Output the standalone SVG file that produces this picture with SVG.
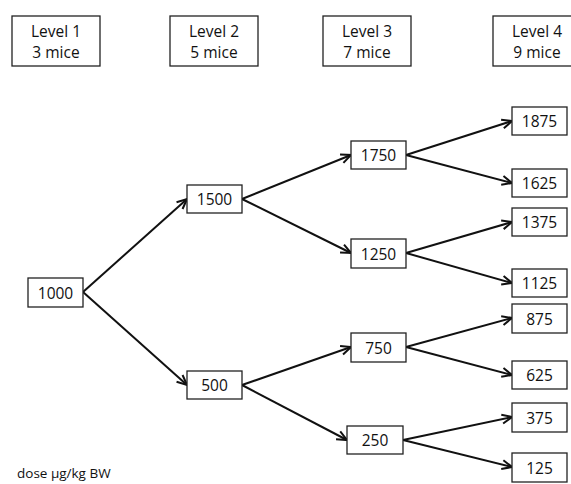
<svg xmlns="http://www.w3.org/2000/svg" width="571" height="484" viewBox="0 0 571 484">
<style>
.box{fill:#fff;stroke:#222;stroke-width:1.3}
.t{font-family:"Open Sans","Noto Sans",sans-serif;font-size:15.5px;fill:#111;text-anchor:middle}
.c{fill:none;stroke:#111;stroke-width:2;marker-end:url(#ah)}
</style>
<defs>
<marker id="ah" viewBox="0 0 12 12" refX="11" refY="6" markerWidth="12" markerHeight="12" markerUnits="userSpaceOnUse" orient="auto">
<path d="M1,1.5 L11,6 L1,10.5" fill="none" stroke="#111" stroke-width="2"/>
</marker>
</defs>
<rect width="571" height="484" fill="#fff"/>
<g id="level1"><rect class="box" x="12" y="16" width="88" height="50"/><text class="t" x="56" y="36.5">Level 1</text><text class="t" x="56" y="57.5">3 mice</text></g>
<g id="level2"><rect class="box" x="170" y="16" width="88" height="50"/><text class="t" x="214" y="36.5">Level 2</text><text class="t" x="214" y="57.5">5 mice</text></g>
<g id="level3"><rect class="box" x="323" y="16" width="88" height="50"/><text class="t" x="367" y="36.5">Level 3</text><text class="t" x="367" y="57.5">7 mice</text></g>
<g id="level4"><rect class="box" x="493" y="16" width="88" height="50"/><text class="t" x="537" y="36.5">Level 4</text><text class="t" x="537" y="57.5">9 mice</text></g>
<g id="connectors">
<line class="c" x1="83" y1="292" x2="187" y2="199"/>
<line class="c" x1="83" y1="292" x2="187" y2="385"/>
<line class="c" x1="242" y1="199" x2="351" y2="155"/>
<line class="c" x1="242" y1="199" x2="351" y2="253"/>
<line class="c" x1="242" y1="385" x2="351" y2="347"/>
<line class="c" x1="242" y1="385" x2="347" y2="440"/>
<line class="c" x1="406" y1="155" x2="512" y2="121"/>
<line class="c" x1="406" y1="155" x2="512" y2="183"/>
<line class="c" x1="406" y1="253" x2="512" y2="222"/>
<line class="c" x1="406" y1="253" x2="512" y2="283"/>
<line class="c" x1="406" y1="347" x2="512" y2="318"/>
<line class="c" x1="406" y1="347" x2="512" y2="375"/>
<line class="c" x1="403" y1="440" x2="512" y2="417"/>
<line class="c" x1="403" y1="440" x2="512" y2="467"/>
</g>
<g id="n1000"><rect class="box" x="28" y="278" width="55" height="29"/><text class="t" x="55.5" y="298.5">1000</text></g>
<g id="n1500"><rect class="box" x="187" y="185" width="55" height="28"/><text class="t" x="214.5" y="205">1500</text></g>
<g id="n500"><rect class="box" x="187" y="371" width="55" height="28"/><text class="t" x="214.5" y="391">500</text></g>
<g id="n1750"><rect class="box" x="351" y="141" width="55" height="28"/><text class="t" x="378.5" y="161">1750</text></g>
<g id="n1250"><rect class="box" x="351" y="239" width="55" height="29"/><text class="t" x="378.5" y="259.5">1250</text></g>
<g id="n750"><rect class="box" x="351" y="333" width="55" height="29"/><text class="t" x="378.5" y="353.5">750</text></g>
<g id="n250"><rect class="box" x="347" y="426" width="56" height="28"/><text class="t" x="375" y="446">250</text></g>
<g id="n1875"><rect class="box" x="512" y="107" width="55" height="28"/><text class="t" x="539.5" y="127">1875</text></g>
<g id="n1625"><rect class="box" x="512" y="169" width="55" height="28"/><text class="t" x="539.5" y="189">1625</text></g>
<g id="n1375"><rect class="box" x="512" y="208" width="55" height="28"/><text class="t" x="539.5" y="228">1375</text></g>
<g id="n1125"><rect class="box" x="512" y="269" width="55" height="28"/><text class="t" x="539.5" y="289">1125</text></g>
<g id="n875"><rect class="box" x="512" y="304" width="55" height="29"/><text class="t" x="539.5" y="324.5">875</text></g>
<g id="n625"><rect class="box" x="512" y="361" width="55" height="28"/><text class="t" x="539.5" y="381">625</text></g>
<g id="n375"><rect class="box" x="512" y="403" width="55" height="29"/><text class="t" x="539.5" y="423.5">375</text></g>
<g id="n125"><rect class="box" x="512" y="453" width="55" height="29"/><text class="t" x="539.5" y="473.5">125</text></g>
<text x="17" y="478" style="font-family:'Open Sans','Noto Sans',sans-serif;font-size:13.5px;fill:#111">dose µg/kg BW</text>
</svg>
